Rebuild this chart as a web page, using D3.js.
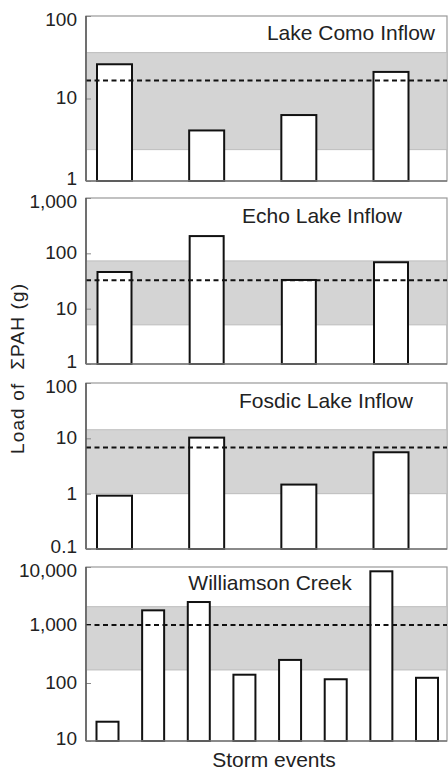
<!DOCTYPE html>
<html>
<head>
<meta charset="utf-8">
<script src="https://cdn.jsdelivr.net/npm/d3@7"></script>
<style>
  html, body { margin: 0; padding: 0; background: #fff; }
  svg { display: block; font-family: "Liberation Sans", Arial, sans-serif; }
</style>
</head>
<body>
<svg id="chart" width="448" height="772"></svg>
<script>
// site names and storm-event loads of ΣPAH (g)
const sites = ["Lake Como Inflow", "Echo Lake Inflow", "Fosdic Lake Inflow", "Williamson Creek"];
const comoLoads = [26, 4.1, 6.3, 21];
const echoLoads = [46, 205, 33, 69];
const fosdicLoads = [0.92, 10.3, 1.46, 5.6];
const williamsonLoads = [21.5, 1790, 2490, 139, 250, 116, 8430, 123];
// shaded range (low, high) and dashed mean for each site
const siteRanges = [[2.4, 36], [5.1, 73], [1.0, 14.3], [168, 2070]];
const siteMeans = [16.5, 32.5, 6.8, 1000];
// y domains of each panel
const yDomains = [[1, 100], [1, 1000], [0.1, 100], [10, 10000]];

const loads = [comoLoads, echoLoads, fosdicLoads, williamsonLoads];

// panel layout
const left = 86, right = 447;
const panels = [
  {top: 16,  bottom: 181, xr: [114.5, 391], bw: 35, title: {x: 435, anchor: "end", y: 40}},
  {top: 198, bottom: 364, xr: [114.5, 391], bw: 34, title: {x: 322, anchor: "middle", y: 223}},
  {top: 383, bottom: 549, xr: [114.5, 391], bw: 35, title: {x: 326, anchor: "middle", y: 408}},
  {top: 567, bottom: 741, xr: [107.5, 427], bw: 22, title: {x: 270, anchor: "middle", y: 590}}
];

const svg = d3.select("#chart");
const fmt = d3.format(",");

panels.forEach(function(p, i) {
  const g = svg.append("g");
  const data = loads[i];

  const x = d3.scalePoint()
      .domain(d3.range(data.length))
      .range(p.xr);
  const y = d3.scaleLog()
      .domain(yDomains[i])
      .range([p.bottom, p.top]);

  // frame
  g.append("rect")
      .attr("x", left).attr("y", p.top)
      .attr("width", right - left).attr("height", p.bottom - p.top)
      .attr("fill", "#fff")
      .attr("stroke", "#999").attr("stroke-width", 1.2);

  // shaded range
  const r = siteRanges[i];
  g.append("rect")
      .attr("x", left).attr("y", y(r[1]))
      .attr("width", right - left).attr("height", y(r[0]) - y(r[1]))
      .attr("fill", "#d4d4d4")
      .attr("stroke", "#bdbdbd").attr("stroke-width", 1);

  // bars
  g.selectAll("rect.bar")
    .data(data)
    .enter().append("rect")
      .attr("class", "bar")
      .attr("x", (d, j) => x(j) - p.bw / 2)
      .attr("y", d => y(d))
      .attr("width", p.bw)
      .attr("height", d => p.bottom - y(d))
      .attr("fill", "#fff")
      .attr("stroke", "#111").attr("stroke-width", 2);

  // dashed mean
  g.append("line")
      .attr("x1", left).attr("x2", right)
      .attr("y1", y(siteMeans[i])).attr("y2", y(siteMeans[i]))
      .attr("stroke", "#111").attr("stroke-width", 2)
      .attr("stroke-dasharray", "5,3.5");

  // axis
  const ticks = d3.range(Math.log10(yDomains[i][0]), Math.log10(yDomains[i][1]) + 0.5).map(e => Math.pow(10, e));
  const axis = g.append("g")
      .attr("transform", "translate(" + left + ",0)")
      .call(d3.axisRight(y).tickValues(ticks).tickSize(5).tickFormat(""));
  axis.select(".domain").remove();
  axis.selectAll(".tick line").attr("stroke", "#888");

  const last = ticks.length - 1;
  g.selectAll("text.tl")
    .data(ticks)
    .enter().append("text")
      .attr("class", "tl")
      .attr("x", left - 9)
      .attr("y", (d, k) => y(d) + (k === 0 ? -3 : k === last ? 3 : -1))
      .attr("dy", "0.36em")
      .attr("text-anchor", "end")
      .attr("font-size", 19)
      .attr("fill", "#222")
      .text(d => fmt(+d.toPrecision(1)));

  g.append("line")
      .attr("x1", left).attr("x2", left)
      .attr("y1", p.top).attr("y2", p.bottom)
      .attr("stroke", "#555").attr("stroke-width", 1.5);
  g.append("line")
      .attr("x1", left).attr("x2", right)
      .attr("y1", p.bottom).attr("y2", p.bottom)
      .attr("stroke", "#777").attr("stroke-width", 1.5);

  // title
  g.append("text")
      .attr("x", p.title.x).attr("y", p.title.y)
      .attr("text-anchor", p.title.anchor)
      .attr("font-size", 21)
      .attr("fill", "#222")
      .text(sites[i]);
});

// axis titles
svg.append("text")
    .attr("transform", "translate(24,369) rotate(-90)")
    .attr("text-anchor", "middle")
    .attr("font-size", 19)
    .attr("fill", "#222")
    .attr("xml:space", "preserve")
    .attr("textLength", 170)
    .attr("lengthAdjust", "spacing")
    .text("Load of  ΣPAH (g)");

svg.append("text")
    .attr("x", 274).attr("y", 767)
    .attr("text-anchor", "middle")
    .attr("font-size", 21)
    .attr("fill", "#222")
    .text("Storm events");
</script>
</body>
</html>
